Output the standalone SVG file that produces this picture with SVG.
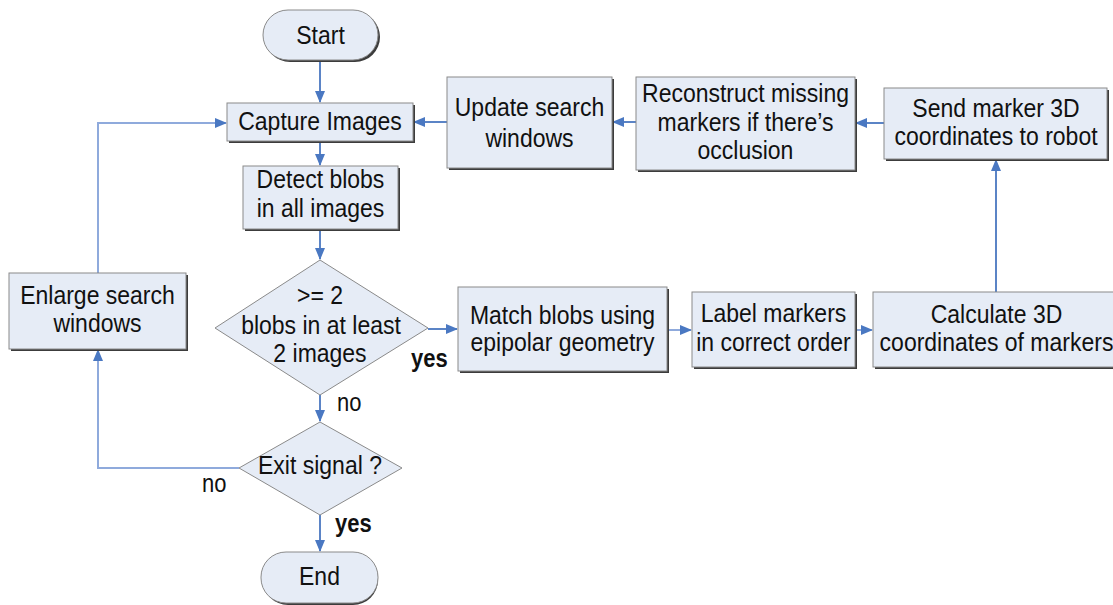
<svg xmlns="http://www.w3.org/2000/svg" width="1113" height="605" viewBox="0 0 1113 605">
<style>
.box{fill:#E6ECF6;stroke:#8A8A8A;stroke-width:1}
.sh{fill:#3C3C3C}
.t{font-family:"Liberation Sans",Arial,sans-serif;font-size:23px;fill:#111;text-anchor:middle;transform-box:fill-box;transform-origin:center;transform:scaleY(1.15)}
.lb{font-family:"Liberation Sans",Arial,sans-serif;font-size:22px;fill:#111;transform-box:fill-box;transform-origin:center;transform:scaleY(1.15)}
.c{fill:none;stroke:#5B84C6;stroke-width:2}
.cl{fill:none;stroke:#8FAADC;stroke-width:2}
</style>
<defs>
<marker id="ah" markerUnits="userSpaceOnUse" markerWidth="12" markerHeight="12" viewBox="0 0 12 12" refX="11" refY="6" orient="auto">
<path d="M0,1 L12,6 L0,11 Z" fill="#4A78C2"/>
</marker>
</defs>
<rect width="1113" height="605" fill="#fff"/>
<g id="connectors">
<path class="c" d="M320,60 V102" marker-end="url(#ah)"/>
<path class="c" d="M320,141 V165" marker-end="url(#ah)"/>
<path class="c" d="M320,229 V259" marker-end="url(#ah)"/>
<path class="c" d="M428,329 H457" marker-end="url(#ah)"/>
<path class="c" d="M320,395 V421" marker-end="url(#ah)"/>
<path class="c" d="M320,515 V551" marker-end="url(#ah)"/>
<path class="cl" d="M239,468 H98 V350" marker-end="url(#ah)"/>
<path class="cl" d="M98,273 V123 H226" marker-end="url(#ah)"/>
<path class="cl" d="M667,330 H691" marker-end="url(#ah)"/>
<path class="cl" d="M855,330 H872" marker-end="url(#ah)"/>
<path class="c" d="M996,292 V160" stroke-width="1.5" marker-end="url(#ah)"/>
<path class="c" d="M884,123 H856" stroke-width="1.5" marker-end="url(#ah)"/>
<path class="c" d="M636,122 H613" stroke-width="1.5" marker-end="url(#ah)"/>
<path class="c" d="M447,122 H414" marker-end="url(#ah)"/>
</g>
<g id="start">
<rect x="265" y="12" width="115" height="50" rx="25" class="sh"/>
<rect x="263" y="10" width="115" height="50" rx="25" class="box"/>
<text class="t" x="320.5" y="43">Start</text>
</g>
<g id="capture">
<rect x="229" y="105" width="186" height="38" class="sh"/>
<rect x="227" y="103" width="186" height="38" class="box"/>
<text class="t" x="320" y="129">Capture Images</text>
</g>
<g id="detect">
<rect x="245" y="168" width="155" height="63" class="sh"/>
<rect x="243" y="166" width="155" height="63" class="box"/>
<text class="t" x="320.5" y="187">Detect blobs</text>
<text class="t" x="320.5" y="216">in all images</text>
</g>
<g id="decision1">
<polygon points="320,260 428,328 320,395 215,328" class="box"/>
<text class="t" x="320" y="303">&gt;= 2</text>
<text class="t" x="321" y="333">blobs in at least</text>
<text class="t" x="320" y="361">2 images</text>
</g>
<g id="decision2">
<polygon points="320,422 402,468 320,515 239,468" class="box"/>
<text class="t" x="320" y="473">Exit signal ?</text>
</g>
<g id="end">
<rect x="263" y="554" width="115" height="51" rx="25" class="sh"/>
<rect x="261" y="552" width="117" height="51" rx="25" class="box"/>
<text class="t" x="319.5" y="584">End</text>
</g>
<g id="enlarge">
<rect x="11" y="275" width="177" height="76" class="sh"/>
<rect x="9" y="273" width="177" height="76" class="box"/>
<text class="t" x="97.5" y="303">Enlarge search</text>
<text class="t" x="97.5" y="331">windows</text>
</g>
<g id="update">
<rect x="449" y="79" width="165" height="91" class="sh"/>
<rect x="447" y="77" width="165" height="91" class="box"/>
<text class="t" x="529.5" y="115">Update search</text>
<text class="t" x="529.5" y="146">windows</text>
</g>
<g id="reconstruct">
<rect x="638" y="79" width="219" height="93" class="sh"/>
<rect x="636" y="77" width="219" height="93" class="box"/>
<text class="t" x="745.5" y="101">Reconstruct missing</text>
<text class="t" x="745.5" y="130">markers if there’s</text>
<text class="t" x="745.5" y="158">occlusion</text>
</g>
<g id="send">
<rect x="886" y="90" width="223" height="71" class="sh"/>
<rect x="884" y="88" width="223" height="71" class="box"/>
<text class="t" x="996" y="116">Send marker 3D</text>
<text class="t" x="996" y="144">coordinates to robot</text>
</g>
<g id="match">
<rect x="460" y="289" width="209" height="84" class="sh"/>
<rect x="458" y="287" width="209" height="84" class="box"/>
<text class="t" x="562.5" y="323">Match blobs using</text>
<text class="t" x="562.5" y="350">epipolar geometry</text>
</g>
<g id="label">
<rect x="694" y="294" width="163" height="75" class="sh"/>
<rect x="692" y="292" width="163" height="75" class="box"/>
<text class="t" x="773.5" y="321">Label markers</text>
<text class="t" x="773.5" y="350">in correct order</text>
</g>
<g id="calc">
<rect x="875" y="294" width="246" height="75" class="sh"/>
<rect x="873" y="292" width="246" height="75" class="box"/>
<text class="t" x="996.5" y="322">Calculate 3D</text>
<text class="t" x="996.5" y="350">coordinates of markers</text>
</g>
<g id="labels">
<text class="lb" x="411" y="366" font-weight="bold" font-size="21">yes</text>
<text class="lb" x="337" y="410">no</text>
<text class="lb" x="202" y="491">no</text>
<text class="lb" x="335" y="531" font-weight="bold" font-size="21">yes</text>
</g>
</svg>
